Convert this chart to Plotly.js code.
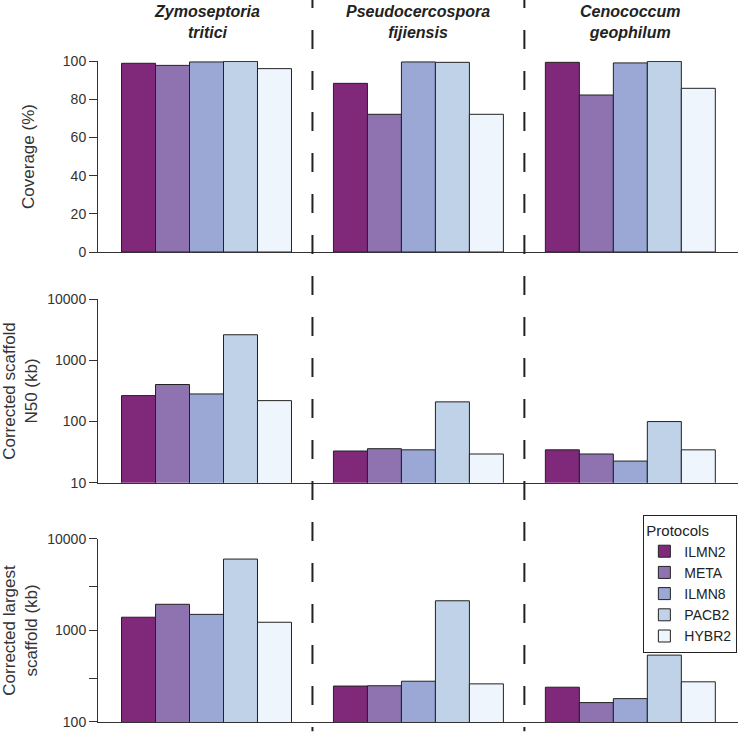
<!DOCTYPE html>
<html>
<head>
<meta charset="utf-8">
<script src="https://cdn.plot.ly/plotly-3.0.1.min.js"></script>
<style>
  html, body { margin: 0; padding: 0; background: #fff; }
  #chart { width: 740px; height: 739px; }
</style>
</head>
<body>
<div id="chart"></div>
<script>
// Categories
const species = ['Zymoseptoria tritici', 'Pseudocercospora fijiensis', 'Cenococcum geophilum'];
const protocols = ['ILMN2', 'META', 'ILMN8', 'PACB2', 'HYBR2'];
const colors = ['#80297b', '#8f73b0', '#9ba7d5', '#c0d2e7', '#eef5fc'];

// One row per protocol, one value per species
const coverage = [
    [98.8, 88.3, 99.3],
    [97.7, 72.1, 82.2],
    [99.5, 99.5, 99.0],
    [99.8, 99.3, 99.8],
    [96.0, 72.1, 85.7]
];
const n50 = [
    [266, 33, 34.5],
    [404, 36, 29.5],
    [283, 34.5, 22.6],
    [2630, 210, 100],
    [220, 29.5, 34.5]
];
const largest = [
    [1396, 247, 240],
    [1933, 249, 163],
    [1500, 279, 180],
    [6030, 2112, 538],
    [1230, 261, 275]
];

const panels = [coverage, n50, largest];
const axisIds = [['x', 'y'], ['x2', 'y2'], ['x3', 'y3']];

const traces = [];
panels.forEach((values, p) => {
    protocols.forEach((name, i) => {
        traces.push({
            type: 'bar',
            name: name,
            x: species,
            y: values[i],
            xaxis: axisIds[p][0],
            yaxis: axisIds[p][1],
            legendgroup: name,
            showlegend: p === 0,
            marker: { color: colors[i], line: { color: '#222', width: 1 } },
            hoverinfo: 'x+y+name'
        });
    });
});

const font = 'Liberation Sans, Arial, sans-serif';
const xRange = [-0.512, 2.508];

function xAxis(anchor) {
    return {
        anchor: anchor, domain: [0, 1], range: xRange, type: 'category',
        showline: true, linecolor: '#333', linewidth: 1,
        showticklabels: false, ticks: '', showgrid: false, zeroline: false,
        fixedrange: true
    };
}
function yAxis(anchor, domain, extra) {
    return Object.assign({
        anchor: anchor, domain: domain,
        showline: true, linecolor: '#333', linewidth: 1,
        ticks: 'outside', ticklen: 8, tickcolor: '#333', tickwidth: 1,
        tickfont: { size: 14, color: '#333' },
        showgrid: false, zeroline: false, fixedrange: true
    }, extra);
}

// Species headers and dashed separators
const annotations = species.map(s => {
    const parts = s.split(' ');
    return {
        xref: 'x', yref: 'paper', x: s, y: 1.059, yanchor: 'middle',
        text: '<b><i>' + parts[0] + '</i></b><br><b><i>' + parts[1] + '</i></b>',
        showarrow: false, font: { size: 16, color: '#222', family: font }
    };
});
const shapes = [0.5, 1.5].map(x => ({
    type: 'line', xref: 'x', yref: 'paper',
    x0: x, x1: x, y0: 1.109, y1: -0.014,
    line: { color: '#222', width: 2, dash: '19px,22px' }
}));

const titleFont = { size: 17, color: '#333' };

const layout = {
    width: 740, height: 739,
    margin: { l: 98, r: 2, t: 61, b: 17 },
    paper_bgcolor: '#fff', plot_bgcolor: '#fff',
    font: { family: font, color: '#333' },
    barmode: 'group', bargap: 0.198, bargroupgap: 0,
    xaxis: xAxis('y'),
    xaxis2: xAxis('y2'),
    xaxis3: xAxis('y3'),
    yaxis: yAxis('x', [0.711, 1], {
        range: [0, 100], tickvals: [0, 20, 40, 60, 80, 100],
        title: { text: 'Coverage (%)', standoff: 23, font: titleFont }
    }),
    yaxis2: yAxis('x2', [0.362, 0.6395], {
        type: 'log', range: [1, 4], tickvals: [10, 100, 1000, 10000],
        ticktext: ['10', '100', '1000', '10000'],
        title: { text: 'Corrected scaffold<br>N50 (kb)', standoff: 13, font: titleFont }
    }),
    yaxis3: yAxis('x3', [0, 0.2769], {
        type: 'log', range: [2, 4], tickvals: [100, 300, 1000, 3000, 10000],
        ticktext: ['100', '', '1000', '', '10000'],
        title: { text: 'Corrected largest<br>scaffold (kb)', standoff: 13, font: titleFont }
    }),
    legend: {
        x: 0.999, y: 0.313, xanchor: 'right', yanchor: 'top',
        bgcolor: '#fff', bordercolor: '#222', borderwidth: 1,
        title: { text: 'Protocols', font: { size: 15, color: '#222' } },
        font: { size: 14, color: '#222' },
        tracegroupgap: 0
    },
    annotations: annotations,
    shapes: shapes
};

Plotly.newPlot('chart', traces, layout, { displayModeBar: false, staticPlot: true });
</script>
</body>
</html>
